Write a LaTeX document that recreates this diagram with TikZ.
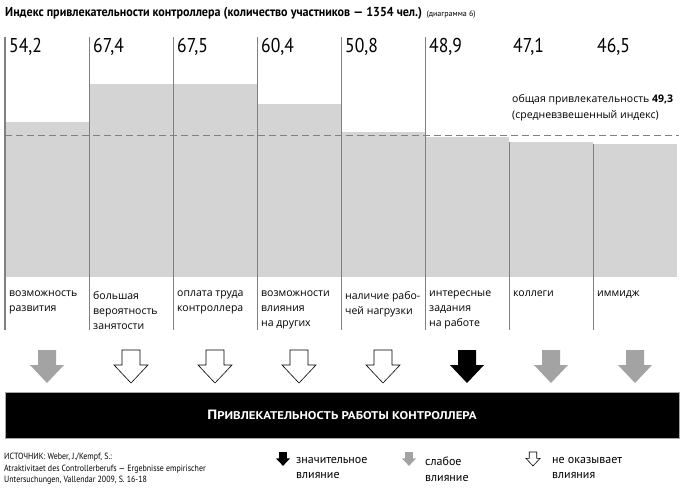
\documentclass[tikz,border=0pt]{standalone}
\usepackage{fontspec}
\setmainfont{Open Sans}
\newfontfamily\din{PT Sans}
\newfontfamily\dincond[FakeStretch=0.88]{PT Sans}
\newfontfamily\titlefont[FakeStretch=0.93]{PT Sans}
\newfontfamily\bandfont[FakeStretch=1.15]{PT Sans}
\usetikzlibrary{positioning}

\definecolor{bargray}{HTML}{D4D4D4}
\definecolor{linegray}{HTML}{808080}
\definecolor{arrowgray}{HTML}{A3A3A3}

\tikzset{
	bar/.style = {fill = bargray, draw = none},
	sep/.style = {draw = linegray},
	avgline/.style = {draw = linegray, line width = 0.8pt, dash pattern = on 7pt off 4pt},
	value/.style = {anchor = west, inner sep = 0pt, font = \dincond\fontsize{20}{20}\selectfont},
	label/.style = {anchor = north west, inner sep = 0pt, align = left, font = \fontsize{10.5}{15}\selectfont},
	legend/.style = {anchor = north west, inner sep = 0pt, align = left, font = \din\fontsize{12}{15.5}\selectfont},
	arrweak/.style = {fill = arrowgray, draw = none},
	arrnone/.style = {fill = white, draw = black, line width = 0.6pt},
	arrstrong/.style = {fill = black, draw = none},
	band/.style = {fill = black, draw = gray!70, line width = 1pt, text = white,
		minimum width = 674pt, minimum height = 46pt, font = \bandfont\bfseries\fontsize{11.2}{12}\selectfont}
}

\begin{document}
\begin{tikzpicture}[x = 1pt, y = -1pt]
		\def\base{277};
		\def\unit{2.864};
		\def\arrowshape{(-9,0) -- (9,0) -- (9,15) -- (17,15) -- (0,33) -- (-17,15) -- (-9,15) -- cycle};
		
		\fill [white] (0,0) rectangle (700,488);
		\useasboundingbox (0,0) rectangle (700,488);
		
		\node [anchor = west, inner sep = 0pt, font = \titlefont\bfseries\fontsize{13}{14}\selectfont] (title) at (5,13)
			{Индекс привлекательности контроллера (количество участников — 1354 чел.)};
		\node [anchor = base west, inner sep = 0pt, font = \din\fontsize{8}{9}\selectfont] (diagram) at ([xshift = 4pt] title.base east) {(диаграмма 6)};
		
		% columns: value, label, influence
		\foreach \v/\num/\txt/\kind [count = \i] in {
			54.2/{54,2}/{возможность\\развития}/arrweak,
			67.4/{67,4}/{большая\\вероятность\\занятости}/arrnone,
			67.5/{67,5}/{оплата труда\\контроллера}/arrnone,
			60.4/{60,4}/{возможности\\влияния\\на других}/arrnone,
			50.8/{50,8}/{наличие рабо-\\чей нагрузки}/arrnone,
			48.9/{48,9}/{интересные\\задания\\на работе}/arrstrong,
			47.1/{47,1}/{коллеги}/arrweak,
			46.5/{46,5}/{иммидж}/arrweak}
		{
			\pgfmathsetmacro\xl{5+84*(\i-1)}
			\pgfmathsetmacro\xc{\xl+42}
			\pgfmathsetmacro\yt{\base-\v*\unit}
			\pgfmathsetmacro\ys{\i<7 ? 37 : \yt}
			\pgfmathsetmacro\lw{\i==1 ? 1.6 : 0.9}
			
			\fill [bar] (\xl,\yt) rectangle (\xl+84,\base);
			\draw [sep, line width = \lw pt] (\xl,\ys) -- (\xl,330);
			\node [value] (value \i) at (\xl+4,47) {\num};
			\node [label] (label \i) at (\xl+4,291) {\txt};
			\draw [\kind, shift = {(\xc,350)}] \arrowshape;
		}
		
		\coordinate (avg left) at (5,\base-49.3*\unit);
		\coordinate (avg right) at (679,\base-49.3*\unit);
		\draw [avgline] (avg left) -- (avg right);
		\node [anchor = north west, inner sep = 0pt, align = left, font = \fontsize{10.5}{16}\selectfont] (overall) at (512,94)
			{общая привлекательность \textbf{49,3}\\(средневзвешенный индекс)};
		
		\node [band] (band) at (342,415) {{\fontsize{13.5}{12}\selectfont П}РИВЛЕКАТЕЛЬНОСТЬ РАБОТЫ КОНТРОЛЛЕРА};
		
		\node [anchor = north west, inner sep = 0pt, align = left, font = \dincond\fontsize{9}{11.5}\selectfont] (source) at (4,453)
			{ИСТОЧНИК: Weber, J./Kempf, S.:\\Atraktivitaet des Controllerberufs — Ergebnisse empirischer\\Untersuchungen, Vallendar 2009, S. 16-18};
		
		% legend
		\draw [arrstrong, shift = {(283,452)}, scale = 0.42] \arrowshape;
		\node [legend] (legend strong) at (296,457) {значительное\\влияние};
		\draw [arrweak, shift = {(409,452)}, scale = 0.42] \arrowshape;
		\node [legend] (legend weak) at (425,457) {слабое\\влияние};
		\draw [arrnone, shift = {(533,452)}, scale = 0.42] \arrowshape;
		\node [legend] (legend none) at (552,457) {не оказывает\\влияния};
	\end{tikzpicture}
\end{document}
